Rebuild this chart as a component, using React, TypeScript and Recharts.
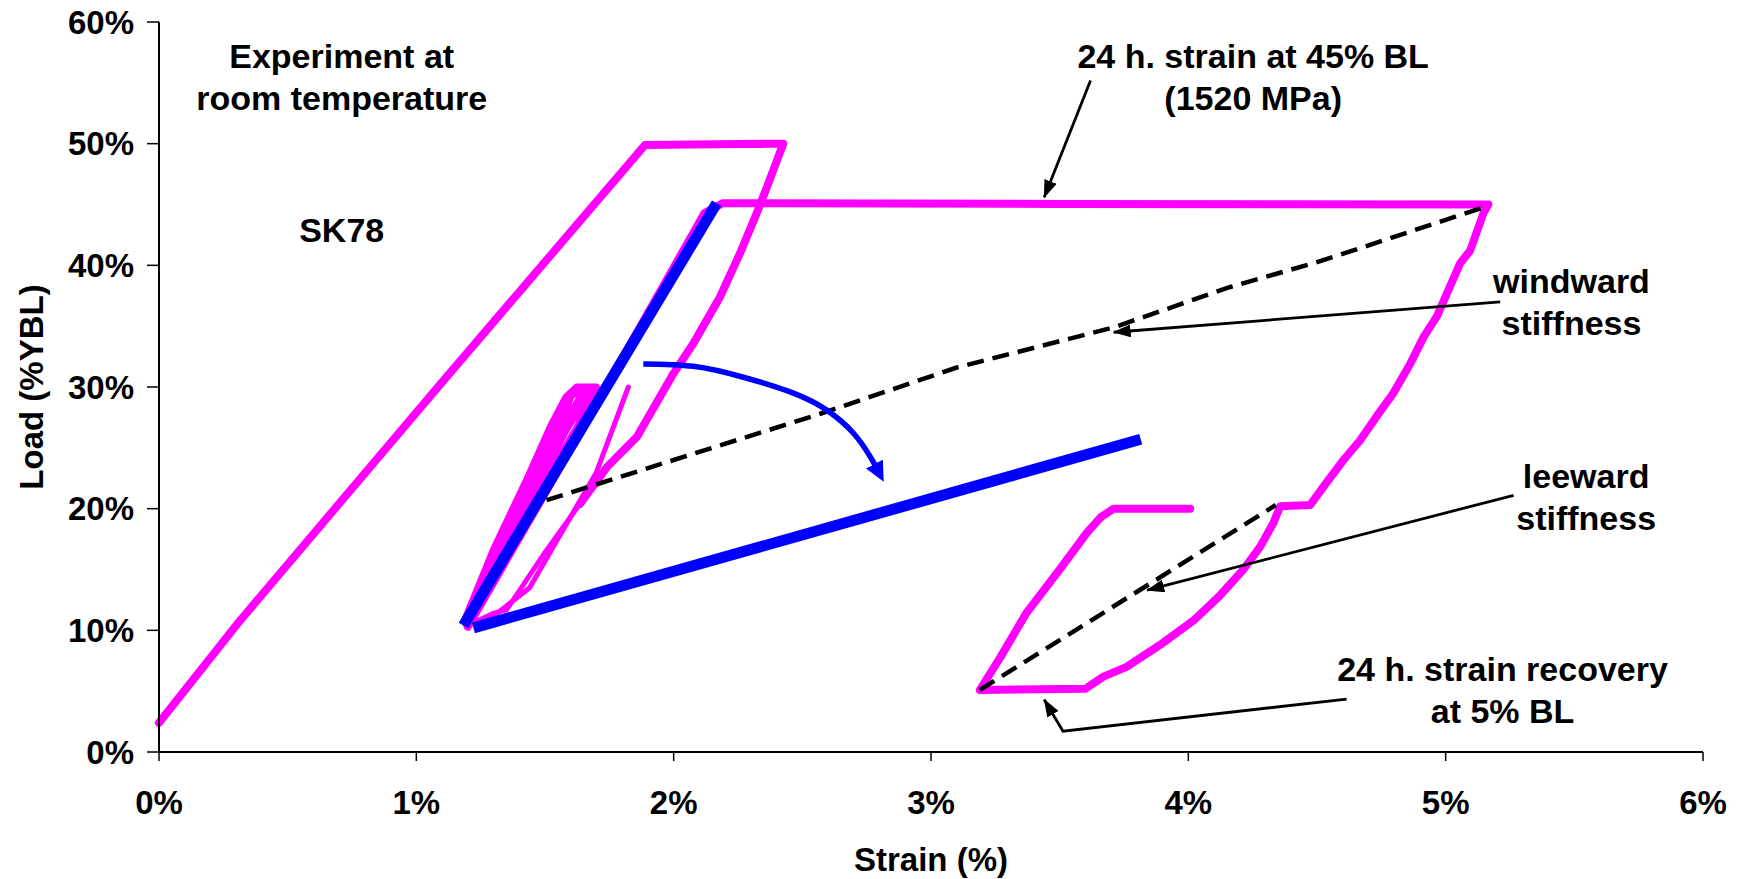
import { Label, Line, LineChart, ReferenceDot, XAxis, YAxis } from 'recharts'

const strainTicks = [0, 1, 2, 3, 4, 5, 6]
const loadTicks = [0, 10, 20, 30, 40, 50, 60]

// first loading to 50% BL and the unloading branch down to 20%
const firstLoad = [
  [0, 2.4], [0.315, 10.8], [1.092, 30.2], [1.889, 49.9], [2.426, 50.0], [2.362, 46.4], [2.323, 44.3],
  [2.258, 41.0], [2.18, 37.4], [2.077, 33.6], [1.999, 31.1], [1.857, 25.9], [1.74, 23.4], [1.636, 20.4],
]
const unloadTail = [[1.636, 20.4], [1.5, 16.4], [1.351, 11.7], [1.299, 11.4], [1.209, 10.5]]
const spikeCycle = [[1.26, 10.5], [1.44, 13.5], [1.7, 23.0], [1.824, 30.0]]
// cycles between 10% and 30% BL
const cycleBand = [
  [1.183, 10.6], [1.299, 16.6], [1.429, 22.4], [1.52, 26.7], [1.582, 29.2], [1.623, 30.0], [1.69, 30.0],
  [1.589, 26.7], [1.478, 22.4], [1.325, 16.6], [1.2, 10.6], [1.305, 16.6], [1.44, 22.4], [1.537, 26.7],
  [1.59, 29.2], [1.632, 30.0], [1.66, 30.0], [1.568, 26.7], [1.46, 22.4], [1.318, 16.6], [1.195, 10.5],
  [1.312, 16.6], [1.453, 22.4], [1.555, 26.7], [1.6, 29.2], [1.645, 30.0], [1.7, 30.0], [1.625, 26.7],
  [1.503, 22.4], [1.339, 16.6], [1.21, 10.5],
]
// reload to 45%, 24 h hold, unloading to 5%, recovery, reload to 20%
const creepPath = [
  [1.2, 10.3], [1.7, 28.6], [2.12, 44.3], [2.19, 45.1], [3.5, 45.05], [5.166, 45.0], [5.147, 44.3],
  [5.095, 41.2], [5.057, 40.2], [5.005, 37.7], [4.966, 35.8], [4.914, 34.1], [4.862, 31.9], [4.797, 29.5],
  [4.732, 27.6], [4.667, 25.6], [4.603, 24.0], [4.525, 21.8], [4.473, 20.3], [4.357, 20.2], [4.33, 18.8],
  [4.28, 16.9], [4.214, 15.0], [4.12, 12.8], [4.02, 10.8], [3.89, 8.8], [3.76, 7.0], [3.67, 6.2],
  [3.6, 5.2], [3.19, 5.1], [3.27, 7.8], [3.37, 11.4], [3.5, 15.0], [3.605, 18.0], [3.66, 19.3],
  [3.71, 20.0], [4.007, 20.0],
]

const blueLoad = [[1.183, 10.4], [2.167, 45.1]]
const blueUnload = [[1.222, 10.2], [3.815, 25.7]]
const blueTurn = [
  [1.882, 31.9], [2.077, 31.7], [2.271, 30.8], [2.465, 29.5], [2.595, 28.1], [2.699, 26.2], [2.763, 24.3],
  [2.782, 23.6],
]

const windward = [
  [1.506, 20.7], [2.0, 24.0], [2.57, 27.8], [3.1, 31.6], [3.71, 34.9], [4.16, 38.2], [4.49, 40.2],
  [4.68, 41.5], [5.166, 44.9],
]
const leeward = [[3.19, 5.1], [4.34, 20.3]]

const arrowHold = [[3.62, 55.2], [3.44, 45.6]]
const arrowWindward = [[5.212, 37.0], [3.71, 34.5]]
const arrowLeeward = [[5.264, 21.1], [3.84, 13.3]]
const arrowRecovery = [[4.615, 4.35], [3.513, 1.71], [3.44, 4.3]]

const noteText = [
  ['Experiment at', 'room temperature'],
  ['SK78'],
  ['24 h. strain at 45% BL', '(1520 MPa)'],
  ['windward', 'stiffness'],
  ['leeward', 'stiffness'],
  ['24 h. strain recovery', 'at 5% BL'],
]
const noteX = [0.71, 0.71, 4.252, 5.489, 5.546, 5.221]
const noteY = [57.2, 42.9, 57.2, 38.7, 22.7, 6.83]

const FONT = '"Liberation Sans", Arial, sans-serif'
const MAGENTA = '#ff00ff'
const BLUE = '#0000ff'

const pts = (arr: number[][]) => arr.map(([x, y]) => ({ x, y }))

function noteShape(lines: string[]) {
  return (p: any) => (
    <text x={p.cx} y={p.cy} textAnchor="middle" fontFamily={FONT} fontWeight="bold" fontSize={34} fill="#000">
      {lines.map((l, i) => (
        <tspan key={i} x={p.cx} dy={i === 0 ? '0.35em' : 42}>{l}</tspan>
      ))}
    </text>
  )
}

function XTitle(props: any) {
  const vb = props.viewBox
  return (
    <text x={vb.x + vb.width / 2} y={vb.y + 107} textAnchor="middle" dominantBaseline="central"
      fontFamily={FONT} fontWeight="bold" fontSize={33}>Strain (%)</text>
  )
}

function YTitle(props: any) {
  const vb = props.viewBox
  const x = vb.x + 31
  const y = vb.y + vb.height / 2
  return (
    <text x={x} y={y} transform={`rotate(-90, ${x}, ${y})`} textAnchor="middle" dominantBaseline="central"
      fontFamily={FONT} fontWeight="bold" fontSize={33}>Load (%YBL)</text>
  )
}

const pct = (v: number) => `${v}%`
const tickStyle = { fill: '#000', fontSize: 33, fontWeight: 'bold', fontFamily: FONT }

export default function App() {
  return (
    <div style={{ position: 'absolute', left: 0, top: 0, width: 1745, height: 879, background: '#fff' }}>
      <LineChart width={1745} height={879} margin={{ top: 22, right: 42, left: 0, bottom: 0 }}>
        <defs>
          <marker id="arrowBlack" viewBox="0 0 18 13" refX={17} refY={6.5} markerWidth={18} markerHeight={13}
            markerUnits="userSpaceOnUse" orient="auto">
            <path d="M0,0 L18,6.5 L0,13 z" fill="#000" />
          </marker>
          <marker id="arrowBlue" viewBox="0 0 20 19" refX={1} refY={9.5} markerWidth={20} markerHeight={19}
            markerUnits="userSpaceOnUse" orient="auto">
            <path d="M0,0 L20,9.5 L0,19 z" fill={BLUE} />
          </marker>
        </defs>
        <XAxis type="number" dataKey="x" domain={[0, 6]} ticks={strainTicks} tickFormatter={pct}
          height={127} tickSize={9} tickMargin={30} tick={tickStyle}
          axisLine={{ stroke: '#000', strokeWidth: 2 }} tickLine={{ stroke: '#000', strokeWidth: 1.5 }}>
          <Label content={XTitle} />
        </XAxis>
        <YAxis type="number" dataKey="y" domain={[0, 60]} ticks={loadTicks} tickFormatter={pct}
          width={159} tickSize={12} tickMargin={13} tick={tickStyle}
          axisLine={{ stroke: '#000', strokeWidth: 2 }} tickLine={{ stroke: '#000', strokeWidth: 1.5 }}>
          <Label content={YTitle} />
        </YAxis>
        <XAxis xAxisId="top" orientation="top" type="number" dataKey="x" domain={[0, 6]} height={0}
          tick={false} tickLine={false} axisLine={{ stroke: '#8c8c8c', strokeWidth: 2 }} />
        <YAxis yAxisId="right" orientation="right" type="number" dataKey="y" domain={[0, 60]} width={0}
          tick={false} tickLine={false} axisLine={{ stroke: '#8c8c8c', strokeWidth: 2 }} />

        <Line data={pts(cycleBand)} dataKey="y" type="linear" stroke={MAGENTA} strokeWidth={7} dot={false}
          strokeLinejoin="round" isAnimationActive={false} />
        <Line data={pts(spikeCycle)} dataKey="y" type="linear" stroke={MAGENTA} strokeWidth={5} dot={false}
          strokeLinecap="round" isAnimationActive={false} />
        <Line data={pts(unloadTail)} dataKey="y" type="linear" stroke={MAGENTA} strokeWidth={5} dot={false}
          isAnimationActive={false} />
        <Line data={pts(firstLoad)} dataKey="y" type="linear" stroke={MAGENTA} strokeWidth={8} dot={false}
          strokeLinejoin="round" strokeLinecap="round" isAnimationActive={false} />
        <Line data={pts(creepPath)} dataKey="y" type="linear" stroke={MAGENTA} strokeWidth={8} dot={false}
          strokeLinejoin="round" strokeLinecap="round" isAnimationActive={false} />

        <Line data={pts(windward)} dataKey="y" type="linear" stroke="#000" strokeWidth={4.5}
          strokeDasharray="17 9" dot={false} isAnimationActive={false} />
        <Line data={pts(leeward)} dataKey="y" type="linear" stroke="#000" strokeWidth={4.5}
          strokeDasharray="17 9" dot={false} isAnimationActive={false} />

        <Line data={pts(blueLoad)} dataKey="y" type="linear" stroke={BLUE} strokeWidth={11} dot={false}
          isAnimationActive={false} />
        <Line data={pts(blueUnload)} dataKey="y" type="linear" stroke={BLUE} strokeWidth={11} dot={false}
          isAnimationActive={false} />
        <Line data={pts(blueTurn)} dataKey="y" type="natural" stroke={BLUE} strokeWidth={5.5} dot={false}
          markerEnd="url(#arrowBlue)" isAnimationActive={false} />

        <Line data={pts(arrowHold)} dataKey="y" type="linear" stroke="#000" strokeWidth={2.8} dot={false}
          markerEnd="url(#arrowBlack)" isAnimationActive={false} />
        <Line data={pts(arrowWindward)} dataKey="y" type="linear" stroke="#000" strokeWidth={2.8} dot={false}
          markerEnd="url(#arrowBlack)" isAnimationActive={false} />
        <Line data={pts(arrowLeeward)} dataKey="y" type="linear" stroke="#000" strokeWidth={2.8} dot={false}
          markerEnd="url(#arrowBlack)" isAnimationActive={false} />
        <Line data={pts(arrowRecovery)} dataKey="y" type="linear" stroke="#000" strokeWidth={2.8} dot={false}
          markerEnd="url(#arrowBlack)" isAnimationActive={false} />

        {noteText.map((lines, i) => (
          <ReferenceDot key={i} x={noteX[i]} y={noteY[i]} r={0} shape={noteShape(lines)} />
        ))}
      </LineChart>
    </div>
  )
}
